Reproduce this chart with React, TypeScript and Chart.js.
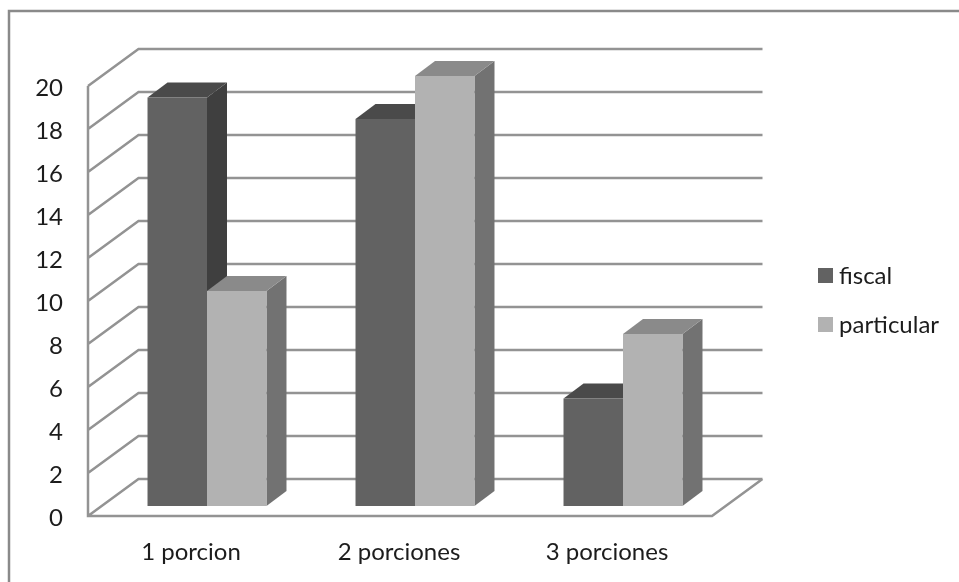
import React, { useEffect, useRef } from "react";
import { Chart, registerables } from "chart.js";

Chart.register(...registerables);

const categories = ["1 porcion", "2 porciones", "3 porciones"];
const fiscal = [19, 18, 5];
const particular = [10, 20, 8];
const yTickStep = 2;
const yMax = 20;

const FONT = "Lato";
const FONT_SIZE = 24;
const TEXT = "#1c1c1c";
const GRID = "#939393";
const FRAME = "#8a8a8a";

// Perspective offsets measured from the plane the bar fronts stand on.
const WALL_DX = 35.5;
const WALL_DY = -27;
const NEAR_DX = -15;
const NEAR_DY = 10;
const BAR_DX = 20;
const BAR_DY = -15;

const faceColors = [
  { top: "#4a4a4a", side: "#3f3f3f" },
  { top: "#8a8a8a", side: "#727272" },
];

function poly(ctx: CanvasRenderingContext2D, pts: number[][], fill: string) {
  ctx.beginPath();
  pts.forEach(([x, y], i) => (i ? ctx.lineTo(x, y) : ctx.moveTo(x, y)));
  ctx.closePath();
  ctx.fillStyle = fill;
  ctx.fill();
}

// Frame, walls and floor of the 3D box, plus the side and top of every bar.
const boxPlugin = {
  id: "box3d",
  beforeDatasetsDraw(chart: any) {
    const { ctx, chartArea, scales } = chart;
    const { left, right } = chartArea;
    const y = scales.y;
    ctx.save();

    ctx.strokeStyle = FRAME;
    ctx.lineWidth = 2.5;
    ctx.beginPath();
    ctx.moveTo(9, chart.height);
    ctx.lineTo(9, 11);
    ctx.lineTo(chart.width, 11);
    ctx.stroke();

    ctx.strokeStyle = GRID;
    ctx.lineWidth = 2.5;
    ctx.beginPath();
    for (const tick of y.ticks) {
      const py = y.getPixelForValue(tick.value);
      ctx.moveTo(left + NEAR_DX, py + NEAR_DY);
      ctx.lineTo(left + WALL_DX, py + WALL_DY);
      ctx.lineTo(right + WALL_DX, py + WALL_DY);
    }
    const zero = y.getPixelForValue(0);
    const top = y.getPixelForValue(yMax);
    ctx.moveTo(left + NEAR_DX, top + NEAR_DY);
    ctx.lineTo(left + NEAR_DX, zero + NEAR_DY);
    ctx.lineTo(right + NEAR_DX, zero + NEAR_DY);
    ctx.lineTo(right + WALL_DX, zero + WALL_DY);
    ctx.stroke();

    chart.getSortedVisibleDatasetMetas().sort((a: any, b: any) => a.index - b.index).forEach((meta: any) => {
      const colors = faceColors[meta.index];
      meta.data.forEach((bar: any) => {
        const { x, y: barTop, base, width } = bar.getProps(["x", "y", "base", "width"], true);
        const l = x - width / 2;
        const r = x + width / 2;
        poly(ctx, [[r, barTop], [r + BAR_DX, barTop + BAR_DY], [r + BAR_DX, base + BAR_DY], [r, base]], colors.side);
        poly(ctx, [[l, barTop], [l + BAR_DX, barTop + BAR_DY], [r + BAR_DX, barTop + BAR_DY], [r, barTop]], colors.top);
      });
    });
    ctx.restore();
  },
  afterDraw(chart: any) {
    const { ctx } = chart;
    ctx.save();
    ctx.font = `${FONT_SIZE}px ${FONT}`;
    ctx.textBaseline = "middle";
    chart.data.datasets.forEach((ds: any, i: number) => {
      const cy = 276 + i * 49;
      ctx.fillStyle = ds.backgroundColor;
      ctx.fillRect(818, cy - 8, 15, 15);
      ctx.fillStyle = TEXT;
      ctx.fillText(ds.label, 839, cy);
    });
    ctx.restore();
  },
};

export default function App() {
  const ref = useRef<HTMLCanvasElement>(null);

  useEffect(() => {
    const chart = new Chart(ref.current!, {
      type: "bar",
      data: {
        labels: categories,
        datasets: [
          { label: "fiscal", data: fiscal, backgroundColor: "#626262" },
          { label: "particular", data: particular, backgroundColor: "#b2b2b2" },
        ],
      },
      options: {
        animation: false,
        responsive: false,
        layout: { autoPadding: false, padding: { left: 0, top: 76, right: 232, bottom: 6 } },
        categoryPercentage: 0.572,
        barPercentage: 1,
        plugins: { legend: { display: false }, tooltip: { enabled: false } },
        scales: {
          x: {
            grid: { display: false },
            border: { display: false },
            afterFit: (s: any) => { s.height = 70; },
            ticks: {
              color: TEXT,
              font: { family: FONT, size: FONT_SIZE },
              padding: 24,
              labelOffset: -16,
              maxRotation: 0,
            },
          },
          y: {
            min: 0,
            max: yMax,
            grid: { display: false, drawTicks: false },
            border: { display: false },
            afterFit: (s: any) => { s.width = 103; },
            ticks: {
              stepSize: yTickStep,
              color: TEXT,
              font: { family: FONT, size: FONT_SIZE },
              padding: 40,
              labelOffset: 12,
            },
          },
        },
      } as any,
      plugins: [boxPlugin],
    });
    return () => chart.destroy();
  }, []);

  return (
    <div style={{ position: "absolute", left: 0, top: 0, width: 959, height: 582, background: "#fff" }}>
      <canvas ref={ref} width={959} height={582} style={{ display: "block" }} />
    </div>
  );
}
